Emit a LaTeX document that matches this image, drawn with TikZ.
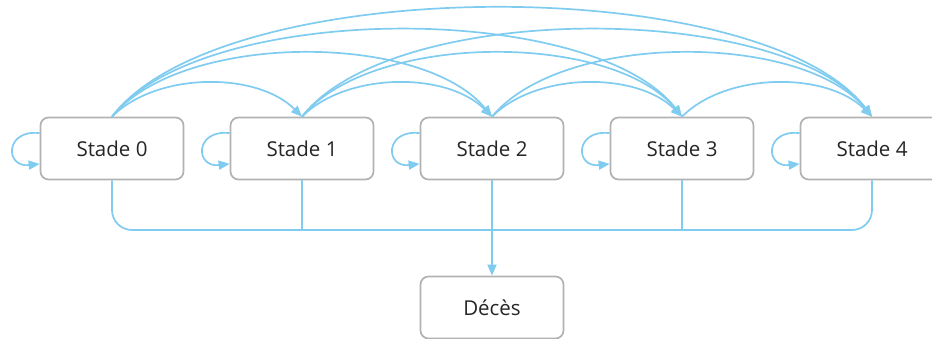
\documentclass[tikz,border=0pt]{standalone}
\usepackage{fontspec}
\setmainfont{Open Sans}
\usetikzlibrary{arrows.meta}
\definecolor{edgeblue}{RGB}{128,204,240}
\definecolor{boxgray}{RGB}{178,178,178}
\begin{document}
\begin{tikzpicture}[x=1pt,y=-1pt,
  stagebox/.style={draw=boxgray, line width=1.7pt, rounded corners=8pt, fill=white,
    minimum width=143pt, minimum height=62pt, inner sep=0pt,
    font=\fontsize{20.5}{24}\selectfont, text=black!85},
  link/.style={draw=edgeblue, line width=1.7pt, -{Triangle[length=11pt,width=9pt]}},
  plainlink/.style={draw=edgeblue, line width=1.7pt}]
\useasboundingbox (0,0) rectangle (932,339);
\node[stagebox] (s0) at (112,148.5) {Stade 0};
\node[stagebox] (s1) at (302,148.5) {Stade 1};
\node[stagebox] (s2) at (492,148.5) {Stade 2};
\node[stagebox] (s3) at (682,148.5) {Stade 3};
\node[stagebox] (s4) at (872,148.5) {Stade 4};
\node[stagebox] (d) at (492,307.5) {Décès};
% self loops
\foreach \s in {s0,s1,s2,s3,s4}{
  \draw[link] (\s.168) .. controls +(-35,-4) and +(-35,4) .. (\s.192);
}
% span 1
\draw[link] (s0.north) .. controls +(45,-45) and +(-45,-45) .. (s1.north);
\draw[link] (s1.north) .. controls +(45,-45) and +(-45,-45) .. (s2.north);
\draw[link] (s2.north) .. controls +(45,-45) and +(-45,-45) .. (s3.north);
\draw[link] (s3.north) .. controls +(45,-45) and +(-45,-45) .. (s4.north);
% span 2
\draw[link] (s0.north) .. controls +(70,-85) and +(-70,-85) .. (s2.north);
\draw[link] (s1.north) .. controls +(70,-85) and +(-70,-85) .. (s3.north);
\draw[link] (s2.north) .. controls +(70,-85) and +(-70,-85) .. (s4.north);
% span 3
\draw[link] (s0.north) .. controls +(90,-116) and +(-90,-116) .. (s3.north);
\draw[link] (s1.north) .. controls +(90,-116) and +(-90,-116) .. (s4.north);
% span 4
\draw[link] (s0.north) .. controls +(110,-145) and +(-110,-145) .. (s4.north);
% bus to death
\coordinate (bus) at (492,230);
\draw[plainlink, rounded corners=20pt] (s0.south) |- (bus) -| (s4.south);
\draw[plainlink] (s1.south) -- (s1.south |- bus);
\draw[plainlink] (s3.south) -- (s3.south |- bus);
\draw[link] (s2.south) -- (d.north);
\end{tikzpicture}
\end{document}
